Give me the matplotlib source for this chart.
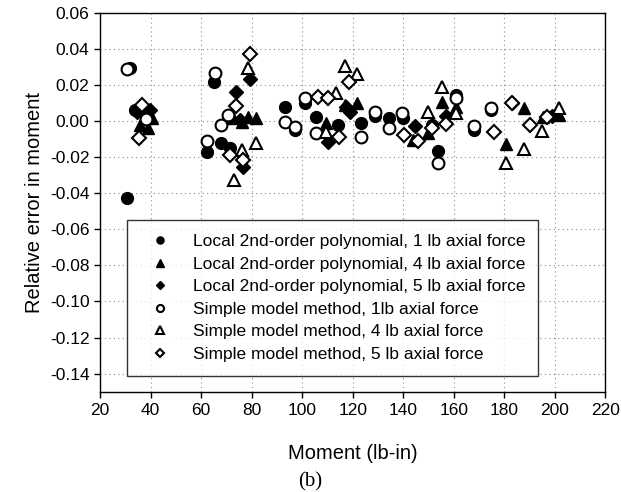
import numpy as np
import matplotlib
matplotlib.use('Agg')
import matplotlib.pyplot as plt

plt.rcParams['font.family'] = ['Liberation Sans', 'DejaVu Sans']

# Local 2nd-order polynomial, 1 lb axial force (filled circles)
loc1_x = [31.9, 30.8, 33.8, 65.2, 62.5, 67.8, 71.4, 93.1, 97.3, 101.3, 105.6,
          114.2, 123.3, 128.7, 134.2, 139.9, 151.3, 153.7, 160.7, 168.0, 174.8]
loc1_y = [0.0296, -0.0426, 0.006, 0.0218, -0.017, -0.012, -0.0152, 0.008, -0.005,
          0.0102, 0.0024, -0.0022, -0.0013, 0.003, 0.0015, 0.0015, -0.0022,
          -0.0165, 0.0144, -0.005, 0.006]

# Local 2nd-order polynomial, 4 lb axial force (filled triangles)
loc4_x = [35.8, 39.1, 40.4, 72.7, 76.0, 78.6, 81.7, 109.3, 117.1, 121.5, 143.8,
          149.8, 155.3, 161.0, 180.8, 187.7, 195.2, 201.8]
loc4_y = [-0.002, -0.004, 0.0015, 0.0015, -0.0004, 0.0024, 0.0015, -0.0013, 0.009,
          0.0102, -0.0106, -0.0069, 0.0107, 0.008, -0.0128, 0.007, 0.0024, 0.0033]

# Local 2nd-order polynomial, 5 lb axial force (filled diamonds)
loc5_x = [34.5, 39.8, 74.0, 75.5, 76.6, 79.5, 110.2, 117.5, 118.8, 144.5, 157.0,
          183.2, 199.0]
loc5_y = [0.005, 0.006, 0.0163, 0.0005, -0.0254, 0.0232, -0.0115, 0.008, 0.0052,
          -0.0028, 0.0028, 0.0098, 0.003]

# Simple model method, 1 lb axial force (open circles)
sim1_x = [30.8, 38.1, 65.7, 62.4, 67.7, 70.7, 93.1, 97.3, 101.3, 105.6, 123.3,
          128.7, 134.2, 139.6, 153.7, 160.7, 168.0, 174.8]
sim1_y = [0.0287, 0.001, 0.0265, -0.011, -0.0022, 0.0033, -0.0004, -0.0032, 0.0126,
          -0.0069, -0.0087, 0.0052, -0.004, 0.0046, -0.0231, 0.013, -0.0028, 0.007]

# Simple model method, 4 lb axial force (open triangles)
sim4_x = [73.2, 76.0, 78.6, 81.7, 109.3, 113.5, 117.1, 121.5, 149.8, 155.3, 161.0,
          180.8, 187.7, 194.9, 201.8]
sim4_y = [-0.0328, -0.016, 0.0293, -0.012, -0.0059, 0.0154, 0.0306, 0.0261, 0.0052,
          0.0187, 0.0046, -0.0231, -0.0156, -0.0054, 0.007]

# Simple model method, 5 lb axial force (open diamonds)
sim5_x = [36.7, 35.4, 71.4, 74.0, 76.6, 79.5, 106.3, 110.2, 114.6, 118.5, 140.3,
          145.8, 151.3, 157.0, 175.8, 183.2, 190.0, 196.9]
sim5_y = [0.0089, -0.0093, -0.0189, 0.0083, -0.0217, 0.0372, 0.0131, 0.0126,
          -0.0087, 0.0218, -0.0078, -0.0109, -0.0041, -0.0017, -0.0059, 0.0098,
          -0.0022, 0.002]

labels = ['Local 2nd-order polynomial, 1 lb axial force',
          'Local 2nd-order polynomial, 4 lb axial force',
          'Local 2nd-order polynomial, 5 lb axial force',
          'Simple model method, 1lb axial force',
          'Simple model method, 4 lb axial force',
          'Simple model method, 5 lb axial force']

fig = plt.figure(figsize=(6.21, 4.92), dpi=100)
ax = fig.add_axes([0.161, 0.204, 0.814, 0.770])

ms = 8.5
ax.plot(loc1_x, loc1_y, 'o', color='black', ms=ms, label=labels[0])
ax.plot(loc4_x, loc4_y, '^', color='black', ms=ms, label=labels[1])
ax.plot(loc5_x, loc5_y, 'D', color='black', ms=ms * 0.8, label=labels[2])
ax.plot(sim1_x, sim1_y, 'o', mfc='white', mec='black', mew=1.5, ms=ms, label=labels[3])
ax.plot(sim4_x, sim4_y, '^', mfc='white', mec='black', mew=1.5, ms=ms, label=labels[4])
ax.plot(sim5_x, sim5_y, 'D', mfc='white', mec='black', mew=1.5, ms=ms * 0.8, label=labels[5])

ax.set_xlim(20, 220)
ax.set_ylim(-0.15, 0.06)
ax.set_xticks(np.arange(20, 221, 20))
ax.set_yticks(np.arange(-0.14, 0.061, 0.02))
ax.set_yticklabels(['{:.2f}'.format(v) for v in np.arange(-0.14, 0.061, 0.02)])
ax.grid(True, color='#888888', linestyle=(0, (1, 3)), linewidth=0.8)
ax.tick_params(direction='out', length=4, labelsize=12.5, width=1)
ax.tick_params(axis='x', pad=4)
for s in ax.spines.values():
    s.set_linewidth(1.0)
ax.spines['top'].set_linestyle((0, (2, 1)))

ax.set_xlabel('Moment (lb-in)', fontsize=14.5)
ax.xaxis.set_label_coords(0.5, -0.164)
ax.xaxis.label.set_va('center')
ax.set_ylabel('Relative error in moment', fontsize=14.5, labelpad=4)

leg = ax.legend(loc='upper left', bbox_to_anchor=(0.053, 0.452, 0.814, 0.0),
                mode='expand', borderaxespad=0, fontsize=12.5, markerscale=0.6,
                labelspacing=0.42, handlelength=2.2, handletextpad=0.8,
                borderpad=0.8, frameon=True, fancybox=False, edgecolor='black')
leg.get_frame().set_linewidth(1.0)

fig.text(0.5, 0.0203, '(b)', ha='center', va='center', fontsize=15,
         family='Liberation Serif')

fig.savefig('out.png', dpi=100)
